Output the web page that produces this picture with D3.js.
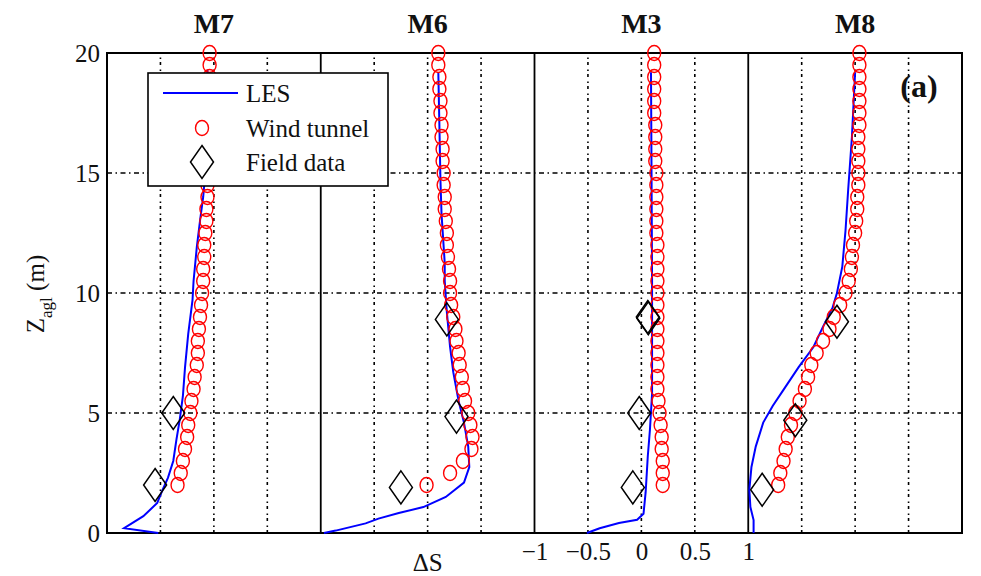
<!DOCTYPE html>
<html>
<head>
<meta charset="utf-8">
<script src="https://cdn.jsdelivr.net/npm/d3@7"></script>
<style>
  body { margin: 0; background: #fff; }
  svg text { fill: #111; }
</style>
</head>
<body>
<div id="chart"></div>
<script>
const stations = ['M7', 'M6', 'M3', 'M8'];

// wind tunnel heights (m)
const wtZ = [2, 2.5, 3, 3.5, 4, 4.5, 5, 5.5, 6, 6.5, 7, 7.5, 8, 8.5, 9, 9.5, 10, 10.5,
  11, 11.5, 12, 12.5, 13, 13.5, 14, 14.5, 15, 15.5, 16, 16.5, 17, 17.5, 18, 18.5, 19, 19.5, 20];

// wind tunnel delta S, one array per station
const wtM7 = [-0.34, -0.31, -0.29, -0.27, -0.25, -0.24, -0.22, -0.21, -0.19, -0.18, -0.16, -0.15,
  -0.15, -0.14, -0.13, -0.12, -0.11, -0.10, -0.10, -0.09, -0.09, -0.08, -0.07, -0.07, -0.06, -0.06,
  -0.06, -0.05, -0.05, -0.05, -0.05, -0.05, -0.05, -0.04, -0.04, -0.04, -0.04];
const wtM6 = [-0.01, 0.21, 0.33, 0.41, 0.42, 0.40, 0.38, 0.35, 0.33, 0.32, 0.30, 0.29, 0.27, 0.26,
  0.24, 0.22, 0.21, 0.21, 0.20, 0.19, 0.18, 0.18, 0.17, 0.16, 0.16, 0.15, 0.15, 0.14, 0.14, 0.13,
  0.13, 0.12, 0.12, 0.11, 0.11, 0.10, 0.10];
const wtM3 = [0.20, 0.20, 0.20, 0.19, 0.19, 0.18, 0.17, 0.16, 0.15, 0.15, 0.15, 0.15, 0.15, 0.15,
  0.15, 0.15, 0.15, 0.15, 0.15, 0.15, 0.15, 0.14, 0.14, 0.14, 0.14, 0.14, 0.14, 0.13, 0.13, 0.13,
  0.13, 0.12, 0.12, 0.12, 0.12, 0.12, 0.12];
const wtM8 = [-0.72, -0.70, -0.67, -0.65, -0.63, -0.60, -0.56, -0.52, -0.47, -0.44, -0.41, -0.36,
  -0.30, -0.24, -0.20, -0.14, -0.09, -0.06, -0.04, -0.03, -0.02, 0.00, 0.01, 0.02, 0.02, 0.03,
  0.03, 0.03, 0.03, 0.03, 0.04, 0.04, 0.04, 0.04, 0.04, 0.04, 0.04];

// LES profiles: [deltaS, z]
const lesM7 = [[-0.52, 0], [-0.84, 0.2], [-0.66, 0.7], [-0.53, 1.25], [-0.48, 1.8], [-0.43, 2.3],
  [-0.38, 3.0], [-0.35, 3.9], [-0.32, 4.7], [-0.29, 5.7], [-0.27, 6.9], [-0.24, 8.3], [-0.20, 9.7],
  [-0.19, 10.5], [-0.16, 11.9], [-0.13, 13.0], [-0.10, 14.0], [-0.08, 15.0], [-0.07, 17.0], [-0.06, 19.3]];
const lesM6 = [[-0.97, 0], [-0.86, 0.1], [-0.58, 0.4], [-0.46, 0.6], [-0.27, 0.83], [-0.04, 1.08],
  [0.17, 1.5], [0.34, 2.1], [0.39, 2.75], [0.38, 3.6], [0.34, 4.6], [0.29, 5.5], [0.24, 6.7],
  [0.21, 7.75], [0.18, 9.2], [0.16, 10.5], [0.16, 11.25], [0.13, 13.3], [0.12, 14.7], [0.11, 17.0], [0.10, 19.2]];
const lesM3 = [[-0.51, 0], [-0.39, 0.2], [-0.21, 0.42], [-0.04, 0.55], [0.02, 0.8], [0.04, 1.7],
  [0.06, 3.2], [0.08, 4.3], [0.10, 5.8], [0.10, 10.5], [0.095, 15.0], [0.09, 19.2]];
const lesM8 = [[-0.95, 0], [-0.95, 0.54], [-0.98, 1.08], [-0.99, 1.8], [-0.97, 2.75], [-0.93, 3.6],
  [-0.86, 4.6], [-0.77, 5.3], [-0.68, 5.9], [-0.53, 6.9], [-0.39, 7.75], [-0.30, 8.6], [-0.21, 9.4],
  [-0.17, 10.0], [-0.12, 11.1], [-0.09, 12.6], [-0.065, 14.3], [-0.03, 16.5], [0.0, 19.2]];

// field data: [deltaS, z]
const fdM7 = [[-0.38, 5.0], [-0.55, 2.0]];
const fdM6 = [[0.18, 8.9], [0.27, 4.85], [-0.25, 1.9]];
const fdM3 = [[0.06, 9.0], [0.065, 8.95], [-0.02, 5.0], [-0.08, 1.9]];
const fdM8 = [[-0.17, 8.8], [-0.56, 4.7], [-0.87, 1.8]];

const yTicks = [0, 5, 10, 15, 20];
const xTickValues = [-1, -0.5, 0, 0.5, 1];
const xTickLabels = ['\u22121', '\u22120.5', '0', '0.5', '1'];
const legendLabels = ['LES', 'Wind tunnel', 'Field data'];

const wtByStation = [wtM7, wtM6, wtM3, wtM8];
const lesByStation = [lesM7, lesM6, lesM3, lesM8];
const fdByStation = [fdM7, fdM6, fdM3, fdM8];

const serif = '"Liberation Serif", "DejaVu Serif", "Times New Roman", Times, serif';

const width = 981;
const height = 576;
const margin = { top: 53, right: 19, bottom: 43, left: 107 };
const panelSpan = 2; // each station covers deltaS -1..1

const svg = d3.select('#chart')
  .append('svg')
  .attr('width', width)
  .attr('height', height)
  .attr('font-family', serif);

const x = d3.scaleLinear()
  .domain([-1, -1 + panelSpan * stations.length])
  .range([margin.left, width - margin.right]);

const y = d3.scaleLinear()
  .domain([0, 20])
  .range([height - margin.bottom, margin.top]);

const offset = i => panelSpan * i;

// grid: dotted verticals at every half unit, solid panel borders
const gridX = d3.range(-1, 7.01, 0.5).filter(v => Math.abs(v % 2) !== 1);
svg.append('g')
  .selectAll('line')
  .data(gridX)
  .enter()
  .append('line')
  .attr('x1', d => x(d))
  .attr('x2', d => x(d))
  .attr('y1', y(0))
  .attr('y2', y(20))
  .attr('stroke', '#000')
  .attr('stroke-width', 1.6)
  .attr('stroke-dasharray', '3,3,1.5,4.5');

svg.append('g')
  .selectAll('line')
  .data(yTicks.slice(1, -1))
  .enter()
  .append('line')
  .attr('x1', x(-1))
  .attr('x2', x(7))
  .attr('y1', d => y(d))
  .attr('y2', d => y(d))
  .attr('stroke', '#000')
  .attr('stroke-width', 1.6)
  .attr('stroke-dasharray', '5,3.5,1.5,3.5');

svg.append('g')
  .selectAll('line')
  .data([1, 3, 5])
  .enter()
  .append('line')
  .attr('x1', d => x(d))
  .attr('x2', d => x(d))
  .attr('y1', y(0))
  .attr('y2', y(20))
  .attr('stroke', '#000')
  .attr('stroke-width', 1.8);

svg.append('rect')
  .attr('x', x(-1))
  .attr('y', y(20))
  .attr('width', x(7) - x(-1))
  .attr('height', y(0) - y(20))
  .attr('fill', 'none')
  .attr('stroke', '#000')
  .attr('stroke-width', 2);

// LES lines
const line = d3.line()
  .x(d => d.x)
  .y(d => d.y);

stations.forEach((name, i) => {
  svg.append('path')
    .datum(lesByStation[i].map(p => ({ x: x(p[0] + offset(i)), y: y(p[1]) })))
    .attr('d', line)
    .attr('fill', 'none')
    .attr('stroke', '#0000ff')
    .attr('stroke-width', 2);
});

// wind tunnel circles
stations.forEach((name, i) => {
  svg.append('g')
    .selectAll('ellipse')
    .data(wtByStation[i].map((v, j) => [v, wtZ[j]]))
    .enter()
    .append('ellipse')
    .attr('cx', d => x(d[0] + offset(i)))
    .attr('cy', d => y(d[1]))
    .attr('rx', 6.5)
    .attr('ry', 7.5)
    .attr('fill', 'none')
    .attr('stroke', '#ff0000')
    .attr('stroke-width', 1.4);
});

// field data diamonds
const diamond = (cx, cy) => `M${cx},${cy - 16.5}L${cx + 11.5},${cy}L${cx},${cy + 16.5}L${cx - 11.5},${cy}Z`;
stations.forEach((name, i) => {
  svg.append('g')
    .selectAll('path')
    .data(fdByStation[i])
    .enter()
    .append('path')
    .attr('d', d => diamond(x(d[0] + offset(i)), y(d[1])))
    .attr('fill', 'none')
    .attr('stroke', '#000')
    .attr('stroke-width', 1.5);
});

// station titles
svg.append('g')
  .selectAll('text')
  .data(stations)
  .enter()
  .append('text')
  .attr('x', (d, i) => x(offset(i)))
  .attr('y', 33)
  .attr('text-anchor', 'middle')
  .attr('font-family', serif)
  .style('font-size', '28px')
  .style('font-weight', 'bold')
  .text(d => d);

// y axis labels
const yAxis = svg.append('g')
  .attr('transform', `translate(${x(-1)},0)`)
  .call(d3.axisLeft(y).tickValues(yTicks).tickSize(0).tickPadding(7));
yAxis.attr('font-family', serif).attr('font-size', 25);
yAxis.select('.domain').remove();
yAxis.selectAll('text').attr('fill', '#111');

// x tick labels under M3 only
const m3 = stations.indexOf('M3');
const xAxis = svg.append('g')
  .attr('transform', `translate(0,${y(0)})`)
  .call(d3.axisBottom(x)
    .tickValues(xTickValues.map(v => v + offset(m3)))
    .tickFormat((d, i) => xTickLabels[i])
    .tickSize(0)
    .tickPadding(9));
xAxis.attr('font-family', serif).attr('font-size', 25);
xAxis.select('.domain').remove();
xAxis.selectAll('text').attr('fill', '#111');

svg.append('text')
  .attr('x', x(offset(1)))
  .attr('y', 571)
  .attr('text-anchor', 'middle')
  .attr('font-family', serif)
  .style('font-size', '25px')
  .text('\u0394S');

// y axis title
const yTitle = svg.append('text')
  .attr('transform', 'translate(44,294) rotate(-90)')
  .attr('text-anchor', 'middle')
  .attr('font-family', serif)
  .style('font-size', '25px');
yTitle.append('tspan').text('Z');
yTitle.append('tspan').attr('dy', 8).style('font-size', '17px').text('agl');
yTitle.append('tspan').attr('dy', -8).text(' (m)');

// panel tag
svg.append('text')
  .attr('x', 919)
  .attr('y', 97)
  .attr('text-anchor', 'middle')
  .attr('font-family', serif)
  .style('font-size', '32px')
  .style('font-weight', 'bold')
  .text('(a)');

// legend
const legend = svg.append('g');
legend.append('rect')
  .attr('x', 148)
  .attr('y', 73)
  .attr('width', 240)
  .attr('height', 113)
  .attr('fill', '#fff')
  .attr('stroke', '#000')
  .attr('stroke-width', 1.6);

const rowY = [93, 128, 162];
legend.append('line')
  .attr('x1', 163).attr('x2', 238)
  .attr('y1', rowY[0]).attr('y2', rowY[0])
  .attr('stroke', '#0000ff')
  .attr('stroke-width', 2);
legend.append('ellipse')
  .attr('cx', 202).attr('cy', rowY[1])
  .attr('rx', 6.5).attr('ry', 7.5)
  .attr('fill', 'none')
  .attr('stroke', '#ff0000')
  .attr('stroke-width', 1.4);
legend.append('path')
  .attr('d', diamond(202, rowY[2]))
  .attr('fill', 'none')
  .attr('stroke', '#000')
  .attr('stroke-width', 1.5);

legend.selectAll('text')
  .data(legendLabels)
  .enter()
  .append('text')
  .attr('x', 246)
  .attr('y', (d, i) => rowY[i] + 9)
  .attr('font-family', serif)
  .style('font-size', '25px')
  .text(d => d);
</script>
</body>
</html>
